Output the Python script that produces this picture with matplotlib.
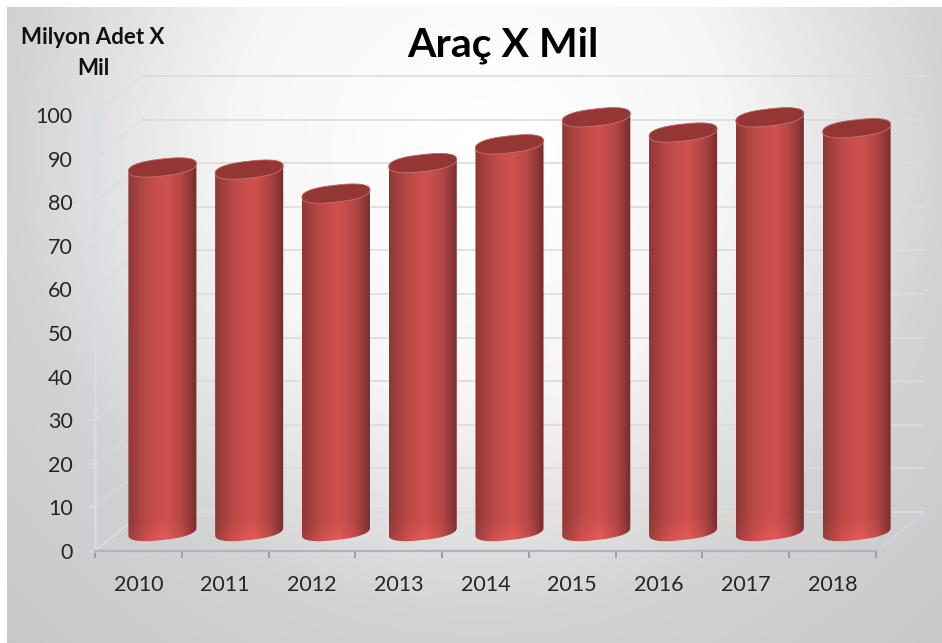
import numpy as np
import matplotlib
matplotlib.use("Agg")
import matplotlib.pyplot as plt
from matplotlib.patches import Polygon

years = ["2010", "2011", "2012", "2013", "2014", "2015", "2016", "2017", "2018"]
values = [83.5, 83, 77.5, 84.5, 88.8, 95, 91.5, 95, 92.5]
y_ticks = list(range(0, 101, 10))
title = "Araç X Mil"
y_title = "Milyon Adet X\nMil"

W, H = 942, 643
plt.rcParams["font.family"] = ["Lato", "DejaVu Sans"]
fig = plt.figure(figsize=(W / 100, H / 100), dpi=100)

# background
bg = fig.add_axes([0, 0, 1, 1], zorder=0)
yy, xx = np.mgrid[0:H, 0:W]
d = np.hypot(xx - 480, yy - 150)
shade = np.interp(d, [0, 250, 470, 700], [255, 245, 210, 198])
shade[:7, :] = 255
shade[:, :7] = 255
bg.imshow(shade, cmap="gray", vmin=0, vmax=255, aspect="auto", extent=(0, W, H, 0))
bg.axis("off")

ax = fig.add_axes([95 / W, (H - 551) / H, 781 / W, 436 / H], zorder=1)
ax.patch.set_alpha(0)
depth_x, depth_y = 48 / 86.8, 39 / 4.36
mid_x, mid_y = depth_x / 2, depth_y / 2

# walls
wall = "#dcdcdc"
for v in y_ticks:
    ax.plot([depth_x, 9 + depth_x], [v + depth_y] * 2, color=wall, lw=1.2, clip_on=False, zorder=1)
    ax.plot([0, depth_x], [v, v + depth_y], color=wall, lw=0.9, alpha=0.7, clip_on=False, zorder=1)
ax.plot([9.1, 9 + depth_x], [1.5, depth_y], color="#ccd7e2", lw=2.0, alpha=0.7, clip_on=False, zorder=1)
ax.plot([0, depth_x], [0, depth_y], color="#dfe4e8", lw=1.2, alpha=0.7, clip_on=False, zorder=1)

# cylinders
rx, ry, tilt = 0.392, 1.95, 0.85
stops = np.array([0.0, 0.12, 0.3, 0.55, 0.78, 0.92, 1.0])
r = np.array([0x8e, 0xa3, 0xbe, 0xd0, 0xb2, 0x8d, 0x72])
g = np.array([0x38, 0x40, 0x4a, 0x52, 0x46, 0x37, 0x2c])
b = np.array([0x36, 0x3e, 0x48, 0x50, 0x44, 0x35, 0x2b])
u = np.linspace(0, 1, 120)
base_rgb = np.stack([np.interp(u, stops, c) for c in (r, g, b)], axis=1) / 255


def ellipse(cx, cy, a, b_):
    t = np.linspace(a, b_, 80)
    c, s = np.cos(t), np.sin(t)
    c = np.sign(c) * np.abs(c) ** 0.8
    s = np.sign(s) * np.abs(s) ** 0.85
    return np.column_stack([cx + rx * c, cy + tilt * c + ry * s])


for i, v in enumerate(values):
    cx = i + 0.5 + mid_x
    lower = ellipse(cx, mid_y, np.pi, 2 * np.pi)      # bottom arc, left to right
    upper = ellipse(cx, v + mid_y, 0, np.pi)          # top arc, right to left
    body = np.vstack([lower, upper])
    top_y = v + mid_y + ry + tilt
    bot_y = mid_y - ry - tilt
    rows = 200
    fy = np.linspace(1, 0, rows)[:, None, None]
    warm = np.clip((0.06 - fy) / 0.06, 0, 1)
    img = base_rgb[None, :, :] * np.ones((rows, 1, 1))
    img = np.clip(img * (1 + 0.12 * warm), 0, 1)
    im = ax.imshow(img, extent=(cx - rx, cx + rx, bot_y, top_y), aspect="auto",
                   zorder=3, interpolation="bilinear")
    patch = Polygon(body, closed=True, transform=ax.transData, fc="none", ec="none", clip_on=False)
    ax.add_patch(patch)
    im.set_clip_box(fig.bbox)
    im.set_clip_path(patch)
    cap = ellipse(cx, v + mid_y, 0, 2 * np.pi)
    ax.add_patch(Polygon(cap, closed=True, fc="#933634", ec="#c9706c", lw=0.6, zorder=4, clip_on=False))

ax.set_xlim(0, 9)
ax.set_ylim(0, 100)
ax.set_yticks(y_ticks)
ax.set_xticks(np.arange(0, 10))
ax.set_xticklabels([])
ax.set_xticks(np.arange(9) + 0.5, labels=years, minor=True)
ax.tick_params(axis="x", which="major", length=5, width=1.2, color="#8a96a0")
ax.tick_params(axis="x", which="minor", length=0, pad=17, labelsize=15.5, labelcolor="#262626")
ax.tick_params(axis="y", length=4, width=1.2, color="#d3deea", pad=12, labelsize=15.5, labelcolor="#262626")
for s in ("top", "right"):
    ax.spines[s].set_visible(False)
ax.spines["left"].set_color("#d3deea")
ax.spines["left"].set_linewidth(1.8)
ax.spines["bottom"].set_color("#a9b7c3")
ax.spines["bottom"].set_linewidth(1.6)

ax.set_title(title, fontsize=29.5, fontweight="bold", color="black", x=0.522, y=1.115)
ax.set_ylabel(y_title, rotation=0, fontsize=16, fontweight="bold", color="#111111",
              linespacing=1.58, ha="center", va="center")
ax.yaxis.set_label_coords((93 - 95) / 781, (551 - 53) / 436)

fig.savefig("out.png", dpi=100)
